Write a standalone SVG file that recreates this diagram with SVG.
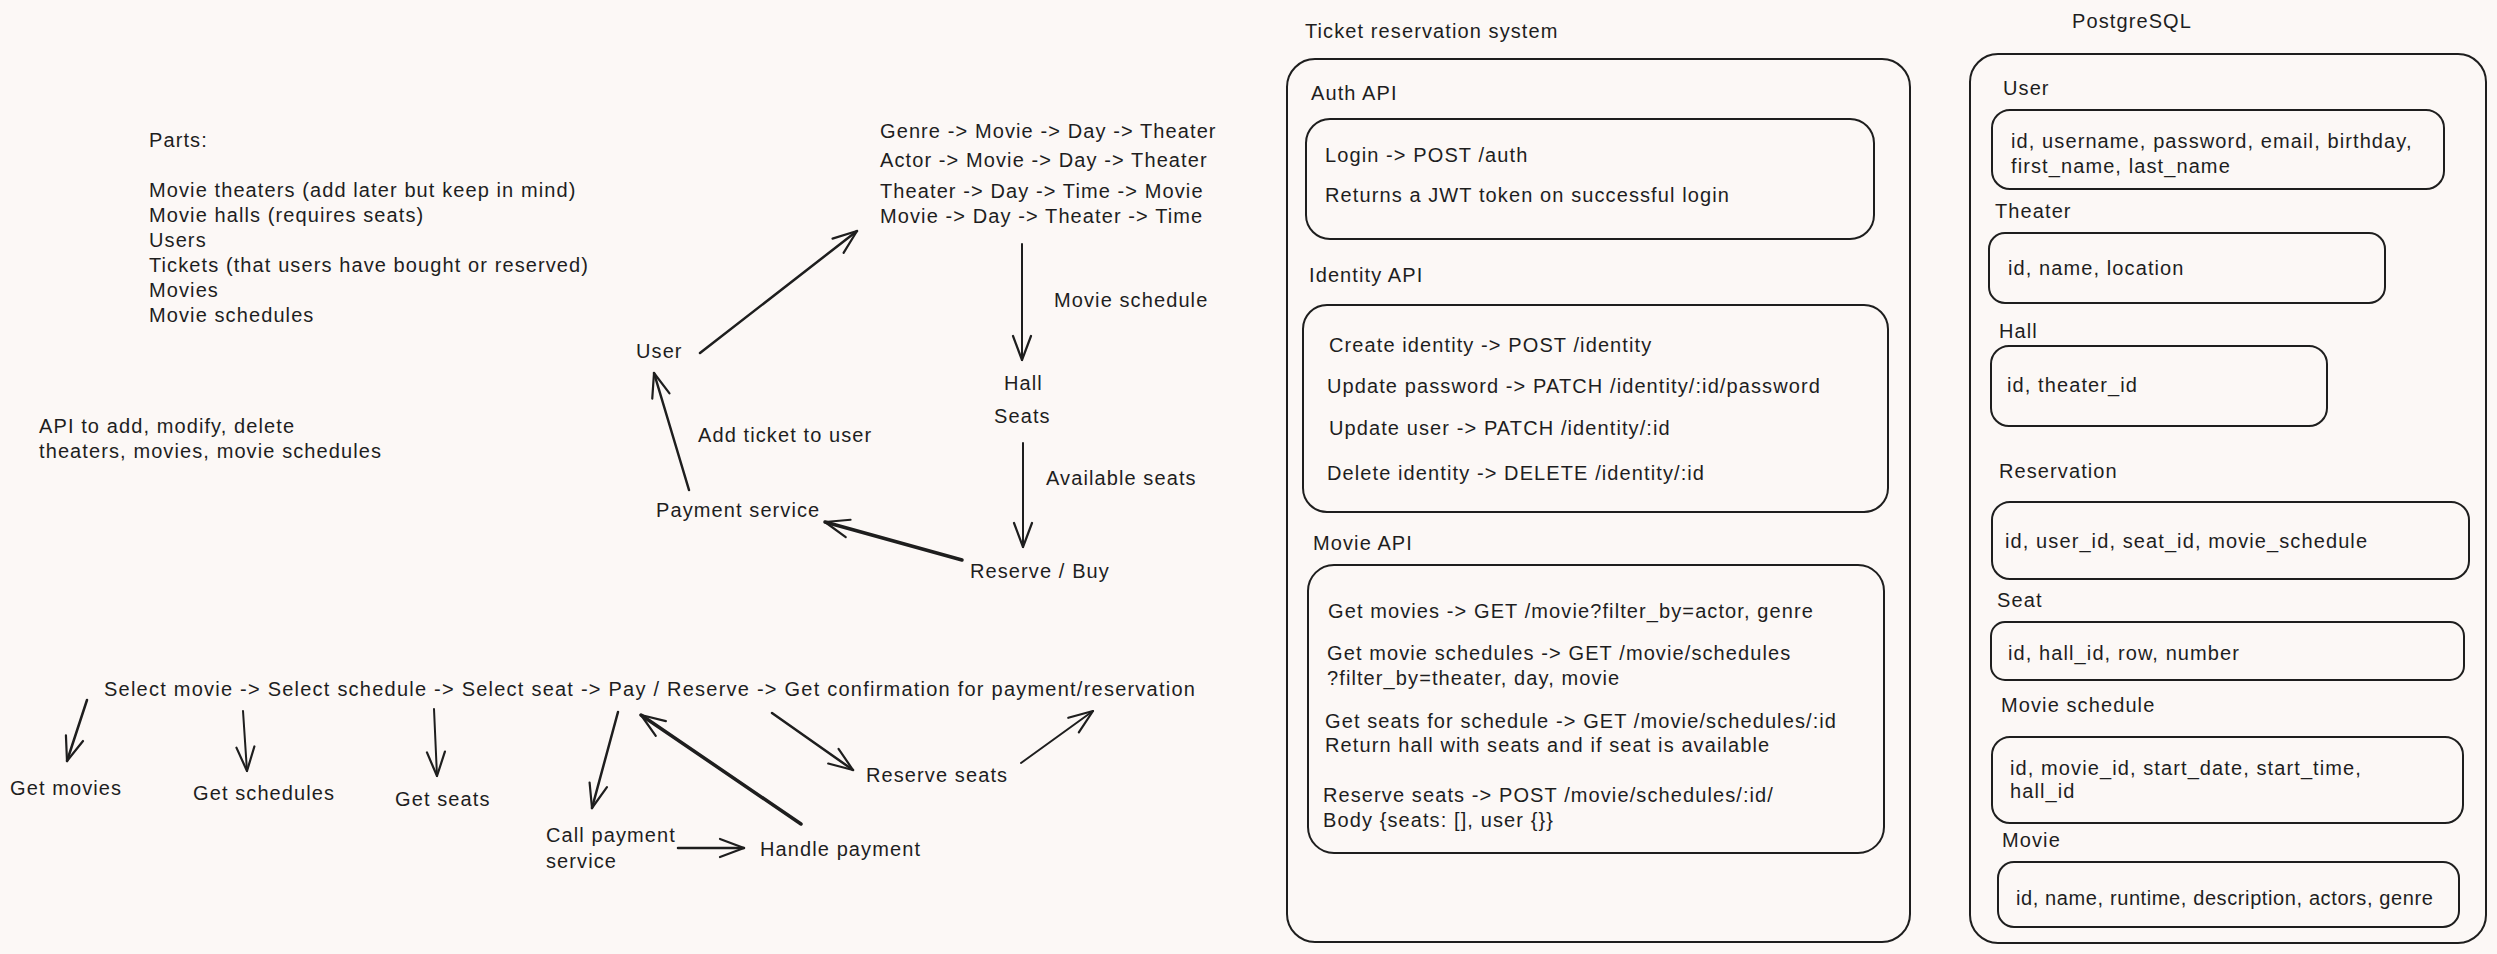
<svg xmlns="http://www.w3.org/2000/svg" width="2497" height="954" viewBox="0 0 2497 954">
<defs>
<style>
text { font-family: "Liberation Sans", Arial, sans-serif; font-size: 20px; fill: #1e1e1e; letter-spacing: 1.1px; }
.box { fill: none; stroke: #1e1e1e; stroke-width: 2; }
.c { fill: none; stroke: #1e1e1e; stroke-linecap: round; marker-end: url(#ah); }
.w2 { stroke-width: 2; }
.w25 { stroke-width: 2.5; }
.w3 { stroke-width: 3.5; }
</style>
<marker id="ah" viewBox="-27 -12 29 24" refX="0" refY="0" markerWidth="29" markerHeight="24" markerUnits="userSpaceOnUse" orient="auto">
<path d="M-24,-9 L0,0 L-24,9" fill="none" stroke="#1e1e1e" stroke-width="2.2" stroke-linecap="round" stroke-linejoin="round"/>
</marker>
</defs>
<rect x="0" y="0" width="2497" height="954" fill="#fcf8f6"/>

<g id="parts-note">
<text x="149" y="147">Parts:</text>
<text x="149" y="197">Movie theaters (add later but keep in mind)</text>
<text x="149" y="222">Movie halls (requires seats)</text>
<text x="149" y="247">Users</text>
<text x="149" y="272">Tickets (that users have bought or reserved)</text>
<text x="149" y="297">Movies</text>
<text x="149" y="322">Movie schedules</text>
</g>
<g id="api-note">
<text x="39" y="433">API to add, modify, delete</text>
<text x="39" y="458">theaters, movies, movie schedules</text>
</g>

<g id="user"><text x="636" y="358">User</text></g>
<g id="browse-paths">
<text x="880" y="138">Genre -&gt; Movie -&gt; Day -&gt; Theater</text>
<text x="880" y="167">Actor -&gt; Movie -&gt; Day -&gt; Theater</text>
<text x="880" y="198">Theater -&gt; Day -&gt; Time -&gt; Movie</text>
<text x="880" y="223">Movie -&gt; Day -&gt; Theater -&gt; Time</text>
</g>
<g id="hall-seats">
<text x="1004" y="390">Hall</text>
<text x="994" y="423">Seats</text>
</g>
<g id="reserve-buy"><text x="970" y="578">Reserve / Buy</text></g>
<g id="payment-service"><text x="656" y="517">Payment service</text></g>

<g id="flow-steps"><text x="104" y="696" textLength="1092" lengthAdjust="spacing">Select movie -&gt; Select schedule -&gt; Select seat -&gt; Pay / Reserve -&gt; Get confirmation for payment/reservation</text></g>
<g id="get-movies"><text x="10" y="795">Get movies</text></g>
<g id="get-schedules"><text x="193" y="800">Get schedules</text></g>
<g id="get-seats"><text x="395" y="806">Get seats</text></g>
<g id="call-payment"><text x="546" y="842">Call payment</text><text x="546" y="868">service</text></g>
<g id="handle-payment"><text x="760" y="856">Handle payment</text></g>
<g id="reserve-seats"><text x="866" y="782">Reserve seats</text></g>

<g id="connectors">
<line class="c w25" x1="700" y1="353" x2="857" y2="231"/>
<line class="c w2" x1="1022" y1="244" x2="1022" y2="360"/>
<line class="c w2" x1="1023" y1="443" x2="1023" y2="547"/>
<line class="c w3" x1="962" y1="560" x2="825" y2="522"/>
<line class="c w25" x1="689" y1="490" x2="654" y2="373"/>
<line class="c w25" x1="87" y1="700" x2="67" y2="761"/>
<line class="c w2" x1="243" y1="711" x2="247" y2="771"/>
<line class="c w2" x1="434" y1="709" x2="437" y2="776"/>
<line class="c w25" x1="618" y1="712" x2="592" y2="808"/>
<line class="c w3" x1="801" y1="824" x2="641" y2="715"/>
<line class="c w25" x1="772" y1="713" x2="853" y2="770"/>
<line class="c w2" x1="1021" y1="763" x2="1093" y2="711"/>
<line class="c w25" x1="678" y1="848" x2="744" y2="848"/>
</g>
<g id="connector-labels">
<text x="1054" y="307">Movie schedule</text>
<text x="1046" y="485">Available seats</text>
<text x="698" y="442">Add ticket to user</text>
</g>

<g id="ticket-system">
<text x="1305" y="38">Ticket reservation system</text>
<rect class="box" x="1287" y="59" width="623" height="883" rx="28"/>
</g>
<g id="auth-api">
<text x="1311" y="100">Auth API</text>
<rect class="box" x="1306" y="119" width="568" height="120" rx="24"/>
<text x="1325" y="162">Login -&gt; POST /auth</text>
<text x="1325" y="202">Returns a JWT token on successful login</text>
</g>
<g id="identity-api">
<text x="1309" y="282">Identity API</text>
<rect class="box" x="1303" y="305" width="585" height="207" rx="24"/>
<text x="1329" y="352">Create identity -&gt; POST /identity</text>
<text x="1327" y="393">Update password -&gt; PATCH /identity/:id/password</text>
<text x="1329" y="435">Update user -&gt; PATCH /identity/:id</text>
<text x="1327" y="480">Delete identity -&gt; DELETE /identity/:id</text>
</g>
<g id="movie-api">
<text x="1313" y="550">Movie API</text>
<rect class="box" x="1308" y="565" width="576" height="288" rx="26"/>
<text x="1328" y="618">Get movies -&gt; GET /movie?filter_by=actor, genre</text>
<text x="1327" y="660">Get movie schedules -&gt; GET /movie/schedules</text>
<text x="1327" y="685">?filter_by=theater, day, movie</text>
<text x="1325" y="728">Get seats for schedule -&gt; GET /movie/schedules/:id</text>
<text x="1325" y="752">Return hall with seats and if seat is available</text>
<text x="1323" y="802">Reserve seats -&gt; POST /movie/schedules/:id/</text>
<text x="1323" y="827">Body {seats: [], user {}}</text>
</g>

<g id="postgresql">
<text x="2072" y="28">PostgreSQL</text>
<rect class="box" x="1970" y="54" width="516" height="889" rx="28"/>
</g>
<g id="db-user">
<text x="2003" y="95">User</text>
<rect class="box" x="1992" y="110" width="452" height="79" rx="18"/>
<text x="2011" y="148">id, username, password, email, birthday,</text>
<text x="2011" y="173">first_name, last_name</text>
</g>
<g id="db-theater">
<text x="1995" y="218">Theater</text>
<rect class="box" x="1989" y="233" width="396" height="70" rx="16"/>
<text x="2008" y="275">id, name, location</text>
</g>
<g id="db-hall">
<text x="1999" y="338">Hall</text>
<rect class="box" x="1991" y="346" width="336" height="80" rx="18"/>
<text x="2007" y="392">id, theater_id</text>
</g>
<g id="db-reservation">
<text x="1999" y="478">Reservation</text>
<rect class="box" x="1992" y="502" width="477" height="77" rx="18"/>
<text x="2005" y="548">id, user_id, seat_id, movie_schedule</text>
</g>
<g id="db-seat">
<text x="1997" y="607">Seat</text>
<rect class="box" x="1991" y="622" width="473" height="58" rx="14"/>
<text x="2008" y="660">id, hall_id, row, number</text>
</g>
<g id="db-movie-schedule">
<text x="2001" y="712">Movie schedule</text>
<rect class="box" x="1992" y="737" width="471" height="86" rx="18"/>
<text x="2010" y="775">id, movie_id, start_date, start_time,</text>
<text x="2010" y="798">hall_id</text>
</g>
<g id="db-movie">
<text x="2002" y="847">Movie</text>
<rect class="box" x="1998" y="862" width="461" height="65" rx="16"/>
<text x="2016" y="905" textLength="418" lengthAdjust="spacing">id, name, runtime, description, actors, genre</text>
</g>
</svg>
